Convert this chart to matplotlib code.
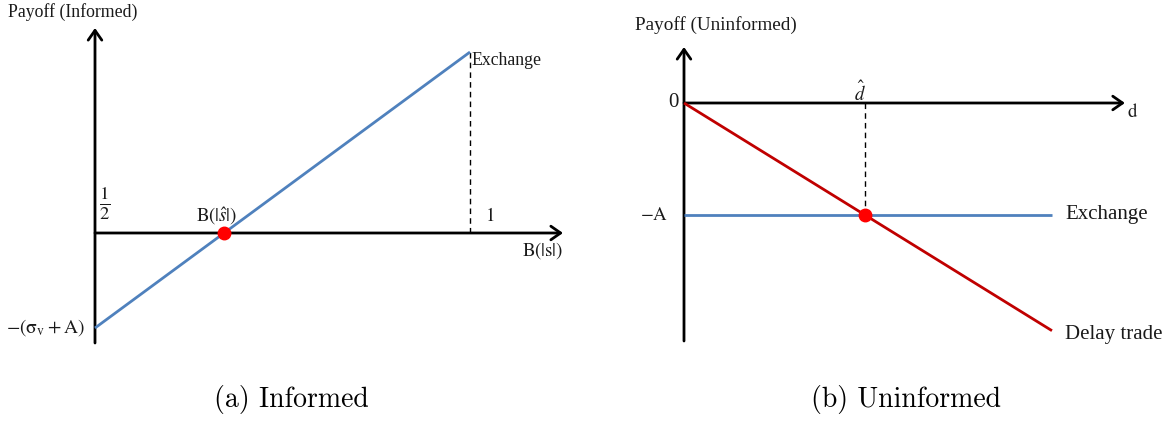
import numpy as np
import matplotlib
matplotlib.use('Agg')
import matplotlib.pyplot as plt

plt.rcParams['mathtext.fontset'] = 'stix'

# Panel (a): informed trader, payoff against B(|s|)
inf_x = [0.0, 1.0]                 # B(|s|) from 1/2 to 1
inf_y = [-1.0, 1.905]              # -(sigma_v + A) up to exchange payoff
inf_cross = inf_x[0] - inf_y[0] * (inf_x[1] - inf_x[0]) / (inf_y[1] - inf_y[0])

# Panel (b): uninformed trader, payoff against delay d
unf_d = [0.0, 2.033]
unf_exchange = [-1.0, -1.0]        # -A
unf_delay = [0.0, -2.033]          # delay trade
d_hat = 1.0

BLUE = '#4f81bd'
RED = '#c00000'
TXT = dict(family='Liberation Serif', fontsize=12.8, color='#1a1a1a')
TXT_B = dict(family='Liberation Serif', fontsize=15, color='#1a1a1a')
MATH = dict(fontsize=13.5, color='#1a1a1a')

fig = plt.figure(figsize=(11.67, 4.21), dpi=100)

# axes spanning each half; limits chosen so the unit scales match the picture
ax1 = fig.add_axes([0, 0, 583 / 1167, 1])
ax1.set_xlim(-95 / 375, 488 / 375)
ax1.set_ylim(-188 / 95, 233 / 95)
ax2 = fig.add_axes([583 / 1167, 0, 584 / 1167, 1])
ax2.set_xlim(-101 / 181, 483 / 181)
ax2.set_ylim(-318 / 112, 103 / 112)
for ax in (ax1, ax2):
    ax.axis('off')

arrow = dict(arrowstyle='->,head_length=0.5,head_width=0.35', lw=2, color='black',
             mutation_scale=14, shrinkA=0, shrinkB=0)

# ---- (a) Informed ----
ax1.annotate('', xy=(0, 2.158), xytext=(0, -1.158), arrowprops=arrow)
ax1.annotate('', xy=(1.248, 0), xytext=(0, 0), arrowprops=arrow)
ax1.plot(inf_x, inf_y, color=BLUE, lw=2, solid_capstyle='butt', zorder=3)
ax1.plot([inf_x[1], inf_x[1]], [0, inf_y[1]], color='black', lw=1, ls=(0, (4, 3)))
ax1.plot([inf_cross], [0], 'o', color='red', ms=9, zorder=4)

ax1.text(-0.232, 2.326, 'Payoff (Informed)', ha='left', va='center', **TXT)
ax1.text(0.026, 0.305, r'$\frac{1}{2}$', ha='center', va='center', fontsize=19,
         color='#1a1a1a')
ax1.text(0.323, 0.18, r'$\mathrm{B}(|\hat{s}|)$', ha='center', va='center', **MATH)
ax1.text(1.053, 0.18, r'$1$', ha='center', va='center', **MATH)
ax1.text(1.192, -0.18, r'$\mathrm{B}(|\mathrm{s}|)$', ha='center', va='center', **MATH)
ax1.text(1.005, 1.82, 'Exchange', ha='left', va='center', **TXT)
ax1.text(-0.027, -0.99, r'$-(\mathrm{\sigma_v} + \mathrm{A})$', ha='right', va='center',
         fontsize=14, color='#1a1a1a')

# ---- (b) Uninformed ----
ax2.annotate('', xy=(0, 0.5), xytext=(0, -2.125), arrowprops=arrow)
ax2.annotate('', xy=(2.436, 0), xytext=(0, 0), arrowprops=arrow)
ax2.plot(unf_d, unf_exchange, color=BLUE, lw=2, solid_capstyle='butt', zorder=3)
ax2.plot(unf_d, unf_delay, color=RED, lw=2, solid_capstyle='butt', zorder=3)
ax2.plot([d_hat, d_hat], [0, unf_exchange[0]], color='black', lw=1, ls=(0, (4, 3)))
ax2.plot([d_hat], [unf_exchange[0]], 'o', color='red', ms=9, zorder=4)

ax2.text(-0.271, 0.696, 'Payoff (Uninformed)', ha='left', va='center',
         family='Liberation Serif', fontsize=13.8, color='#1a1a1a')
ax2.text(-0.06, 0.0, '0', ha='center', va='center', **TXT_B)
ax2.text(0.972, 0.09, r'$\hat{d}$', ha='center', va='center', **MATH)
ax2.text(-0.088, -1.0, r'$-\mathrm{A}$', ha='right', va='center', **MATH)
ax2.text(2.48, -0.08, r'$\mathrm{d}$', ha='center', va='center', **MATH)
ax2.text(2.105, -1.0, 'Exchange', ha='left', va='center', **TXT_B)
ax2.text(2.105, -2.07, 'Delay trade', ha='left', va='center', **TXT_B)

# captions
fig.text(291 / 1167, 1 - 400 / 421, '(a) Informed', ha='center', va='center',
         family='cmr10', fontsize=20)
fig.text(906 / 1167, 1 - 400 / 421, '(b) Uninformed', ha='center', va='center',
         family='cmr10', fontsize=20)

fig.savefig('out.png', dpi=100)
